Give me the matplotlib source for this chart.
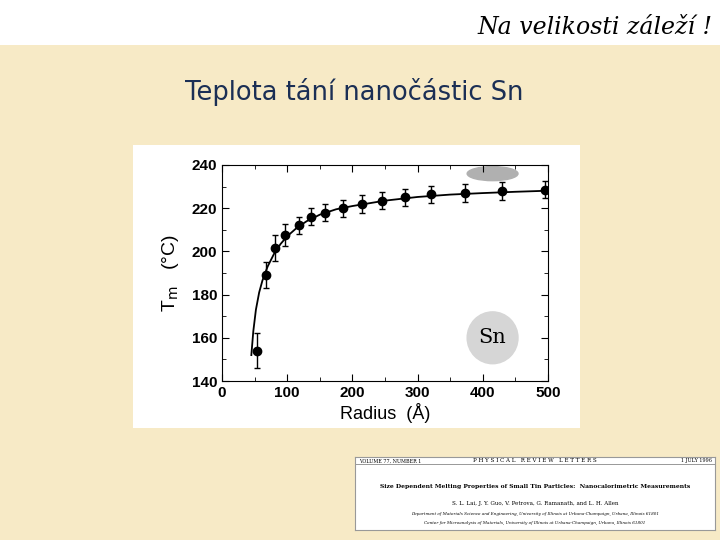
import matplotlib
matplotlib.use("Agg")
import matplotlib.pyplot as plt
from matplotlib.patches import Ellipse

radius = [53, 67, 82, 97, 118, 137, 158, 185, 215, 245, 280, 320, 372, 430, 495]
tm = [154, 189, 201.5, 207.5, 212, 216, 218, 220, 222, 223.5, 225, 226.5, 227, 228, 228.5]
err = [8, 6, 6, 5, 4, 4, 4, 4, 4, 4, 4, 4, 4, 4, 4]
fit_r = [45, 48, 52, 57, 62, 70, 80, 90, 100, 115, 130, 150, 175, 200, 250, 300, 350, 400, 450, 500]
fit_t = [152, 163, 173, 181, 186.5, 193, 199, 203.5, 207, 211, 214, 217, 219.5, 221, 223.5, 225.2, 226.3, 227, 227.6, 228.1]

W, H = 720, 540
fig = plt.figure(figsize=(7.2, 5.4), dpi=100)
fig.patch.set_facecolor("#f7eac6")

def box(x0, y0, x1, y1):
    return [x0 / W, 1 - y1 / H, (x1 - x0) / W, (y1 - y0) / H]

band = fig.add_axes(box(0, 0, 720, 45))
band.set_facecolor("white"); band.set_xticks([]); band.set_yticks([])
for s in band.spines.values(): s.set_visible(False)
fig.text(712 / W, 1 - 27 / H, "Na velikosti záleží !", ha="right", va="center",
         fontsize=17, style="italic", family="DejaVu Serif", color="black")
fig.text(185 / W, 1 - 92 / H, "Teplota tání nanočástic Sn", ha="left", va="center",
         fontsize=18.5, color="#1b2f55", family="DejaVu Sans")

panel = fig.add_axes(box(133, 145, 580, 428))
panel.set_facecolor("white"); panel.set_xticks([]); panel.set_yticks([])
for s in panel.spines.values(): s.set_visible(False)

ax = fig.add_axes(box(222, 165, 548, 381))
ax.set_facecolor("white")
ax.set_xlim(0, 500); ax.set_ylim(140, 240)
ax.add_patch(Ellipse((415, 236), 78, 6.5, color="#b0b0b0", zorder=1))
ax.add_patch(Ellipse((415, 160), 78, 24, color="#d6d6d6", zorder=1))
ax.text(415, 160, "Sn", ha="center", va="center", fontsize=15, family="DejaVu Serif", zorder=2)
ax.plot(fit_r, fit_t, color="black", lw=1.3, zorder=3)
ax.errorbar(radius, tm, yerr=err, fmt="o", color="black", ms=6, capsize=2.5, elinewidth=1, zorder=4)
ax.set_xticks([0, 100, 200, 300, 400, 500])
ax.set_yticks([140, 160, 180, 200, 220, 240])
ax.set_xticks(range(50, 500, 100), minor=True)
ax.set_yticks(range(150, 240, 20), minor=True)
ax.tick_params(direction="in", top=True, right=True, labelsize=11, which="both")
ax.tick_params(length=5, which="major"); ax.tick_params(length=3, which="minor")
for lab in ax.get_xticklabels() + ax.get_yticklabels():
    lab.set_family("Liberation Sans"); lab.set_weight("bold")
ax.set_xlabel("Radius  (Å)", fontsize=13, labelpad=2, family="Liberation Sans")
ax.set_ylabel(r"T$_{\mathrm{m}}$   (°C)", fontsize=14, labelpad=8, family="Liberation Sans")

pa = fig.add_axes(box(355, 457, 715, 530))
pa.set_facecolor("white"); pa.set_xlim(0, 1); pa.set_ylim(0, 1)
pa.set_xticks([]); pa.set_yticks([])
for s in pa.spines.values(): s.set_color("#999999")
pa.axhline(0.9, color="#888888", lw=0.6)
pa.text(0.01, 0.95, "VOLUME 77, NUMBER 1", fontsize=3.5, family="DejaVu Serif", va="center")
pa.text(0.5, 0.95, "P H Y S I C A L   R E V I E W   L E T T E R S", fontsize=4, family="DejaVu Serif", va="center", ha="center")
pa.text(0.99, 0.95, "1 JULY 1996", fontsize=3.5, family="DejaVu Serif", va="center", ha="right")
pa.text(0.5, 0.6, "Size Dependent Melting Properties of Small Tin Particles:  Nanocalorimetric Measurements",
        fontsize=4.3, weight="bold", family="DejaVu Serif", ha="center", va="center")
pa.text(0.5, 0.36, "S. L. Lai, J. Y. Guo, V. Petrova, G. Ramanath, and L. H. Allen", fontsize=4, family="DejaVu Serif", ha="center", va="center")
pa.text(0.5, 0.22, "Department of Materials Science and Engineering, University of Illinois at Urbana-Champaign, Urbana, Illinois 61801",
        fontsize=3, style="italic", family="DejaVu Serif", ha="center", va="center")
pa.text(0.5, 0.09, "Center for Microanalysis of Materials, University of Illinois at Urbana-Champaign, Urbana, Illinois 61801",
        fontsize=3, style="italic", family="DejaVu Serif", ha="center", va="center")

fig.savefig("out.png", dpi=100, facecolor=fig.get_facecolor())
